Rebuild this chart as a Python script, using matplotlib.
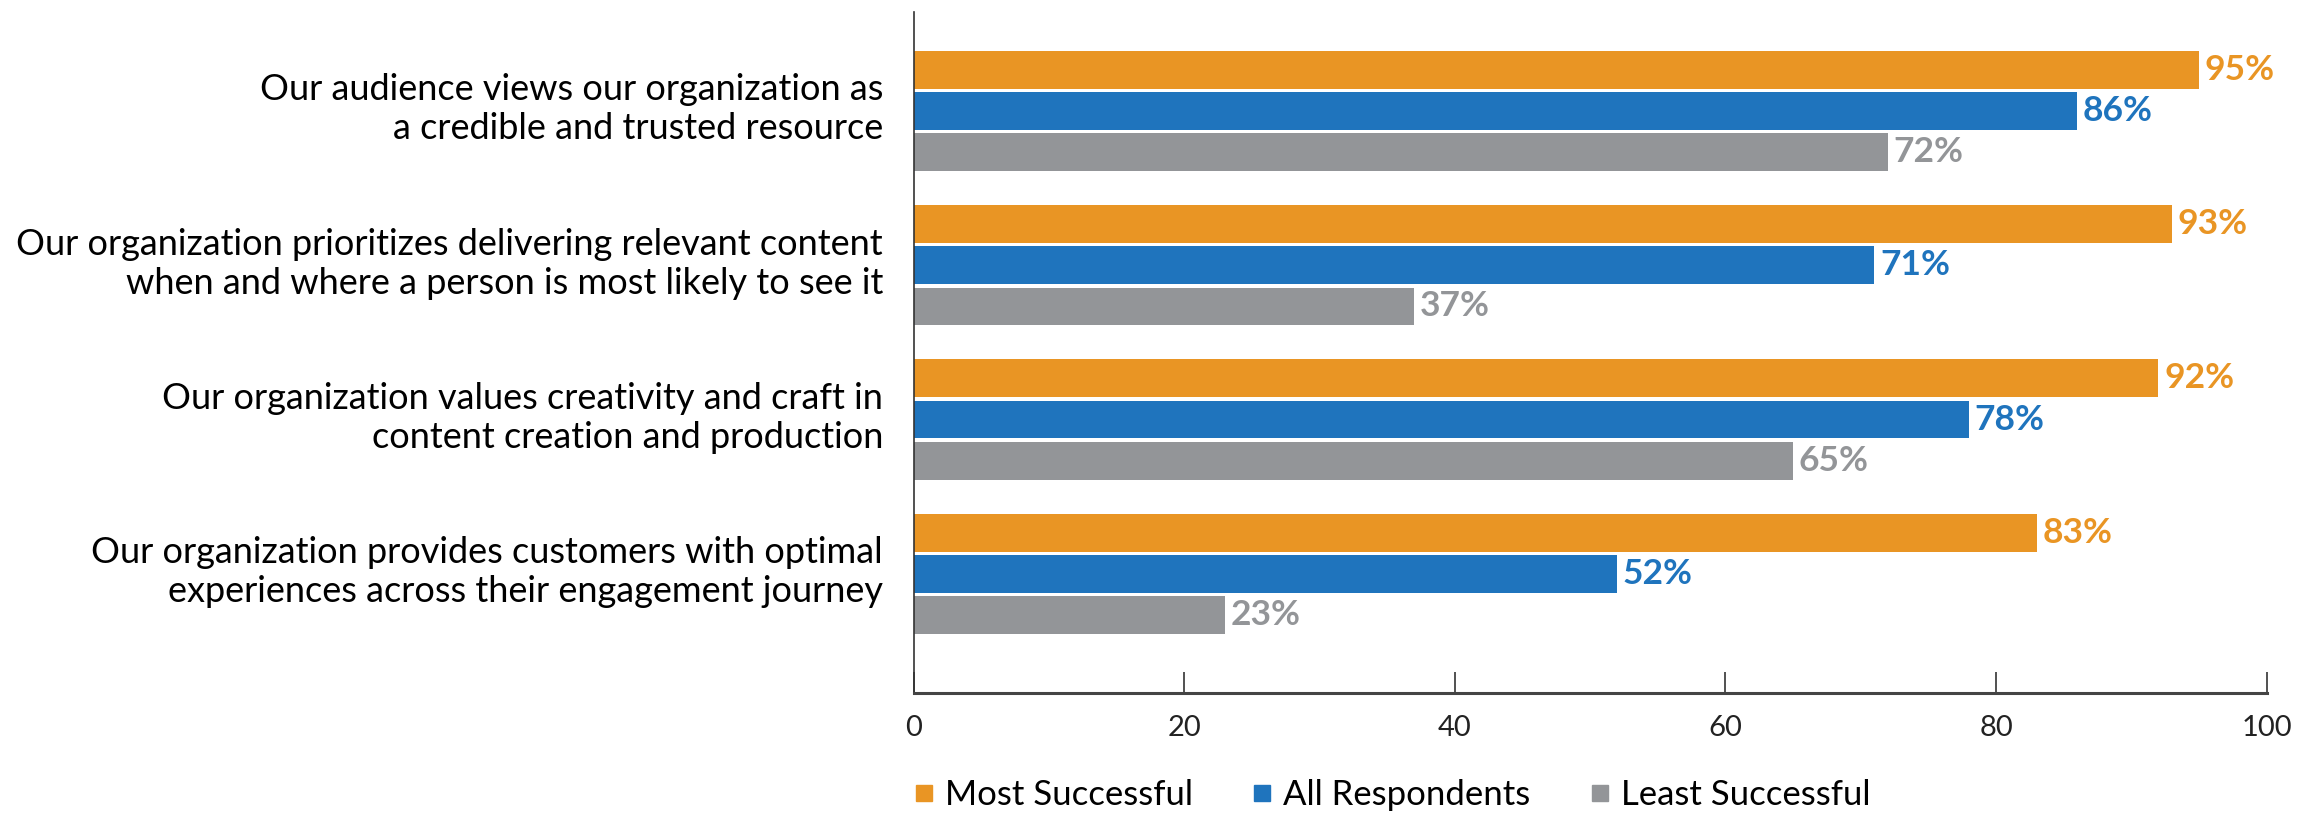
import numpy as np
import matplotlib.pyplot as plt
from matplotlib.lines import Line2D

plt.rcParams['font.family'] = ['Lato', 'DejaVu Sans']

categories = [
    "Our audience views our organization as\na credible and trusted resource",
    "Our organization prioritizes delivering relevant content\nwhen and where a person is most likely to see it",
    "Our organization values creativity and craft in\ncontent creation and production",
    "Our organization provides customers with optimal\nexperiences across their engagement journey",
]
series_names = ["Most Successful", "All Respondents", "Least Successful"]
most_successful = [95, 93, 92, 83]
all_respondents = [86, 71, 78, 52]
least_successful = [72, 37, 65, 23]
colors = ["#E99524", "#1F74BD", "#939598"]
x_ticks = [0, 20, 40, 60, 80, 100]

fig = plt.figure(figsize=(23.13, 8.14), dpi=100)
ax = fig.add_axes([0.395, 0.149, 0.585, 0.836])

y = np.arange(len(categories))
offset = 0.267
height = 0.245
values = [most_successful, all_respondents, least_successful]
for i, (vals, c) in enumerate(zip(values, colors)):
    bars = ax.barh(y + (i - 1) * offset, vals, height=height, color=c)
    ax.bar_label(bars, labels=[f"{v}%" for v in vals], padding=4,
                 color=c, fontsize=25.5, fontweight='bold')

ax.set_yticks(y - 0.05)
ax.set_yticklabels(categories, fontsize=26, ha='right', linespacing=1.22)
ax.tick_params(axis='y', length=0, pad=22)
ax.set_ylim(3.77, -0.64)

ax.set_xlim(0, 100)
ax.set_xticks(x_ticks)
ax.set_xticklabels([str(t) for t in x_ticks], fontsize=21, color='#222222')
ax.tick_params(axis='x', direction='in', length=15, width=1.2, color='#333333', pad=16)

for s in ['top', 'right']:
    ax.spines[s].set_visible(False)
ax.spines['left'].set_color('#333333')
ax.spines['left'].set_linewidth(1.2)
ax.spines['bottom'].set_color('#444444')
ax.spines['bottom'].set_linewidth(2.2)

handles = [Line2D([], [], marker='s', linestyle='none', markersize=11,
                  markerfacecolor=c, markeredgecolor=c) for c in colors]
fig.legend(handles, series_names, loc='lower left', bbox_to_anchor=(0.380, -0.035),
           ncol=3, frameon=False, fontsize=25, handletextpad=0.2,
           columnspacing=1.6, handlelength=0.8)

fig.savefig("out.png", dpi=100)
